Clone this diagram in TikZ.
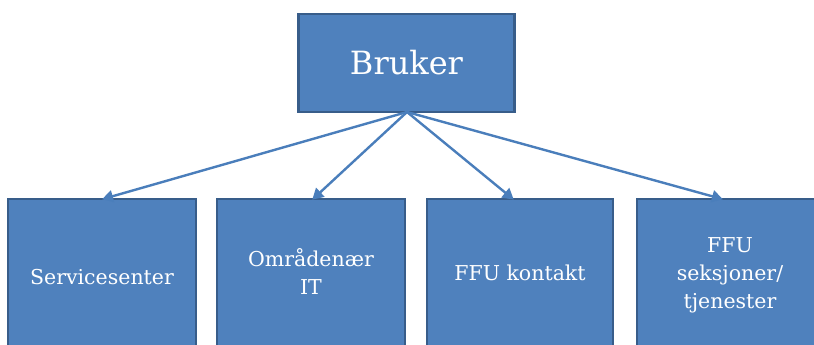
\documentclass[tikz,border=0pt]{standalone}
\usepackage{fontspec}
\setmainfont{DejaVu Serif}
\usetikzlibrary{arrows.meta,shadows}
\definecolor{boxfill}{HTML}{4F81BD}
\definecolor{boxline}{HTML}{385D8A}
\definecolor{arrowc}{HTML}{4A7EBB}
\tikzset{
  box/.style={draw=boxline, line width=2.6pt, fill=boxfill, text=white, align=center, inner sep=0pt,
    drop shadow={opacity=0.25, shadow xshift=1pt, shadow yshift=-1pt}},
  lowbox/.style={box, minimum width=188pt, minimum height=156pt},
  small/.style={text=white, align=center, inner sep=0pt, font=\fontsize{20.5}{28}\selectfont},
  conn/.style={draw=arrowc, line width=2.4pt, -{Triangle[length=11pt,width=12pt]}, shorten >=-1pt}
}
\begin{document}
\begin{tikzpicture}[x=1pt,y=1pt]
\useasboundingbox (0,0) rectangle (814,345);
\clip (0,0) rectangle (814,345);
\node[box, minimum width=216pt, minimum height=98pt, font=\fontsize{32}{38}\selectfont] (bruker) at (406.5,282) {Bruker};
\coordinate (src) at (407,233);
\node[lowbox] (s) at (102,68) {};
\node[lowbox] (o) at (311,68) {};
\node[lowbox, minimum width=186pt] (f) at (520,68) {};
\node[lowbox, minimum width=186pt] (t) at (730,68) {};
\node[small] (sl) at (s.center) {Servicesenter};
\node[small] (ol) at ([yshift=5pt]o.center) {Områdenær\\IT};
\node[small] (fl) at ([yshift=4pt]f.center) {FFU kontakt};
\node[small] (tl) at ([yshift=2pt]t.center) {FFU\\seksjoner/\\tjenester};
\coordinate (ts) at (103,146);
\coordinate (to) at (313,146);
\coordinate (tf) at (513,146);
\coordinate (tt) at (722,146);
\draw[conn] (src) -- (ts);
\draw[conn] (src) -- (to);
\draw[conn] (src) -- (tf);
\draw[conn] (src) -- (tt);
\end{tikzpicture}
\end{document}
